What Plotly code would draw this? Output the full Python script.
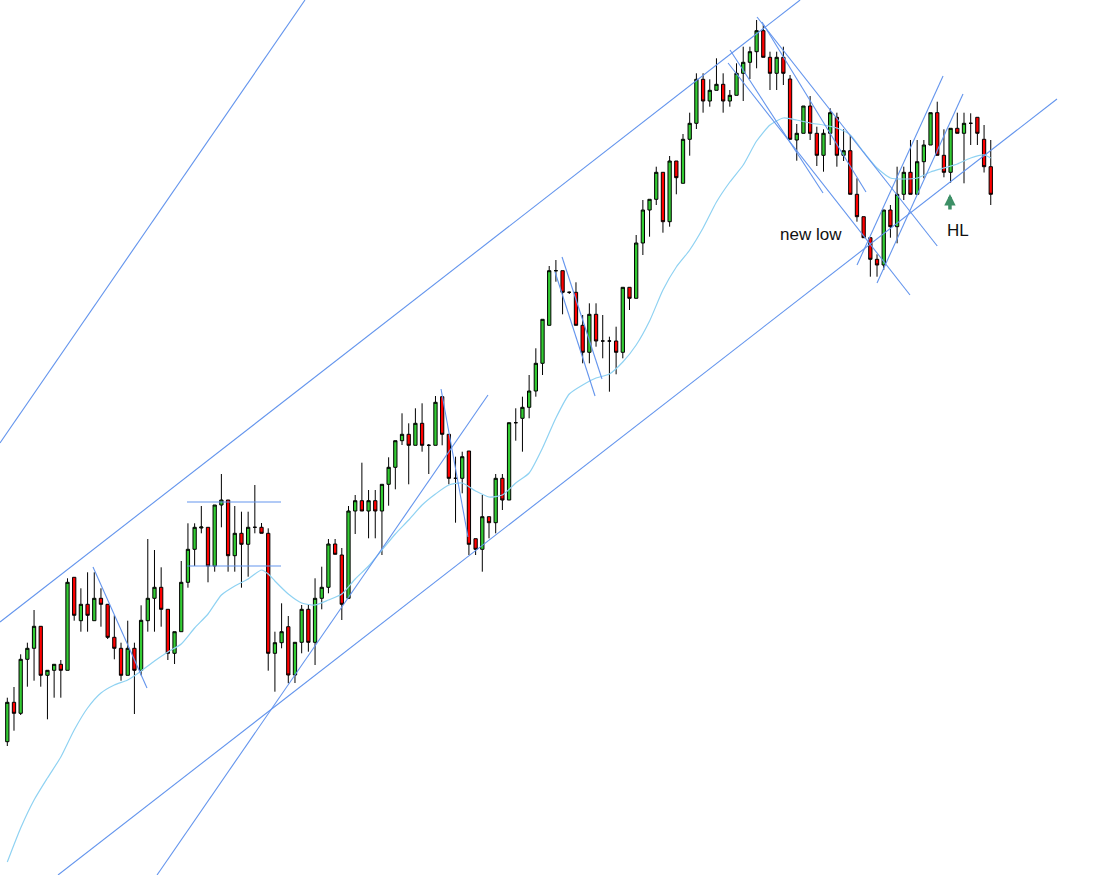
import plotly.graph_objects as go

# ---- candle data (price units, arbitrary scale) ----
OPEN = [133.3, 172.7, 161.7, 215.7, 226.7, 248.7, 199.7, 204.7, 210.7, 204.7,
        297.7, 254.3, 270.7, 254.3, 276.7, 270.7, 237.7, 226.7, 199.7, 226.7,
        204.7, 254.3, 276.7, 287.7, 265.7, 221.7, 243.3, 292.7, 325.7, 347.0,
        347.7, 309.0, 370.0, 375.0, 319.3, 341.7, 330.7, 347.7, 347.7, 341.7,
        221.7, 232.3, 248.3, 200.0, 232.7, 265.7, 232.7, 276.7, 287.7, 331.0,
        320.0, 276.7, 364.0, 374.3, 364.0, 374.3, 364.0, 390.7, 407.7, 434.3,
        440.7, 429.7, 451.7, 429.7, 429.7, 478.3, 440.7, 396.7, 396.7, 424.0,
        336.3, 325.7, 358.3, 352.3, 396.7, 375.0, 452.3, 456.7, 467.7, 484.0,
        511.7, 549.7, 604.3, 604.3, 582.7, 582.7, 549.7, 522.7, 560.7, 534.0,
        534.0, 534.0, 522.7, 587.7, 576.7, 632.0, 665.0, 675.7, 702.7, 653.3,
        714.0, 691.7, 735.7, 751.7, 795.7, 774.0, 784.7, 790.7, 774.0, 779.7,
        801.7, 812.7, 823.3, 844.3, 817.7, 801.7, 817.7, 796.0, 735.0, 741.7,
        769.0, 741.7, 719.7, 741.7, 757.7, 719.7, 724.3, 680.7, 658.3, 637.3,
        615.7, 610.0, 665.0, 648.3, 680.7, 702.7, 680.7, 713.3, 730.0, 762.3,
        719.7, 702.7, 746.7, 741.7, 751.7, 757.7, 735.7, 708.3]
HIGH = [177.3, 188.0, 220.7, 232.3, 265.0, 249.0, 205.0, 211.0, 215.0, 296.7,
        297.7, 286.7, 302.7, 302.7, 286.7, 271.0, 259.7, 232.3, 254.3, 232.3,
        269.7, 336.0, 325.0, 307.7, 265.7, 243.3, 314.0, 351.7, 351.7, 369.0,
        347.7, 370.0, 401.0, 375.0, 369.0, 363.3, 363.3, 390.0, 352.0, 346.7,
        243.3, 271.7, 259.0, 232.7, 270.0, 270.0, 296.7, 308.3, 336.0, 336.0,
        327.0, 369.0, 380.0, 412.3, 385.0, 385.0, 390.7, 417.7, 434.3, 461.7,
        451.7, 466.7, 471.7, 431.0, 479.0, 479.0, 440.7, 418.3, 423.3, 424.0,
        336.3, 380.0, 358.3, 401.0, 401.0, 452.3, 466.7, 478.3, 500.0, 526.7,
        555.7, 609.0, 615.0, 604.3, 583.5, 592.7, 560.0, 571.7, 571.7, 560.0,
        538.3, 548.3, 587.7, 587.7, 640.0, 675.0, 675.7, 708.3, 702.7, 719.0,
        714.0, 741.0, 762.3, 801.7, 801.7, 795.7, 816.7, 801.7, 785.0, 811.7,
        828.3, 828.3, 855.0, 850.0, 823.3, 823.3, 828.3, 800.0, 751.0, 769.0,
        779.0, 748.3, 745.7, 766.7, 762.3, 745.7, 740.0, 696.7, 658.3, 637.3,
        620.7, 665.0, 670.0, 708.3, 708.3, 735.0, 735.0, 735.0, 762.3, 773.3,
        745.7, 746.7, 762.3, 762.3, 761.7, 757.7, 750.0, 735.0]
LOW = [129.0, 144.3, 160.0, 188.3, 194.3, 188.3, 155.7, 177.3, 177.3, 204.7,
       254.3, 243.3, 243.3, 254.3, 248.3, 236.0, 215.7, 194.3, 199.7, 161.0,
       199.7, 243.3, 243.3, 248.3, 215.0, 211.0, 243.3, 287.3, 309.0, 341.7,
       292.7, 303.3, 347.7, 303.3, 303.3, 287.3, 298.3, 341.7, 341.7, 204.3,
       183.3, 226.7, 191.7, 192.0, 221.7, 223.3, 210.0, 265.7, 281.7, 320.7,
       255.0, 276.7, 341.0, 364.0, 336.7, 336.7, 320.0, 369.3, 385.7, 430.0,
       390.7, 429.7, 423.3, 401.0, 429.7, 429.7, 390.7, 352.3, 381.7, 320.0,
       320.0, 303.3, 336.7, 341.7, 365.0, 375.0, 434.3, 423.3, 456.7, 478.3,
       500.0, 549.7, 593.3, 560.7, 581.0, 549.7, 511.7, 511.7, 528.3, 516.7,
       483.3, 500.7, 516.7, 565.0, 576.7, 620.0, 638.3, 670.0, 642.3, 648.3,
       680.7, 691.7, 719.3, 746.0, 762.3, 768.3, 784.7, 762.3, 768.3, 779.7,
       774.0, 796.0, 806.7, 817.7, 785.0, 785.0, 790.0, 735.7, 714.3, 741.7,
       735.0, 709.0, 703.3, 730.0, 708.3, 714.0, 680.7, 653.3, 637.3, 598.3,
       598.3, 605.0, 637.3, 631.7, 675.0, 680.7, 680.7, 696.7, 730.0, 719.7,
       697.7, 692.3, 741.7, 691.7, 730.0, 730.0, 702.5, 670.0]
CLOSE = [172.7, 161.7, 215.7, 226.7, 248.7, 199.7, 204.7, 210.7, 204.7, 292.7,
         259.7, 270.7, 259.7, 276.7, 270.7, 237.7, 226.7, 199.7, 226.7, 204.7,
         254.7, 276.7, 287.7, 265.7, 221.7, 243.3, 292.7, 325.7, 347.7, 348.0,
         309.0, 370.0, 375.0, 319.3, 341.7, 330.7, 347.7, 347.7, 341.7, 221.7,
         232.3, 243.3, 200.0, 232.7, 265.7, 232.7, 276.7, 287.7, 331.0, 320.7,
         270.7, 364.0, 374.3, 364.0, 374.3, 364.0, 390.7, 407.7, 434.3, 440.7,
         429.7, 451.7, 429.7, 429.7, 472.7, 440.7, 396.7, 396.7, 418.3, 330.7,
         325.7, 358.3, 352.3, 396.7, 375.0, 452.3, 452.3, 467.7, 484.0, 511.7,
         555.7, 604.3, 604.3, 582.7, 582.7, 549.7, 522.7, 560.7, 534.0, 534.0,
         534.0, 522.7, 587.7, 576.7, 632.0, 665.0, 675.7, 702.7, 653.3, 714.0,
         697.3, 735.7, 751.7, 795.7, 774.0, 784.7, 790.7, 774.0, 779.7, 801.7,
         812.7, 823.3, 844.3, 817.7, 801.7, 817.7, 801.7, 735.7, 741.7, 769.0,
         741.7, 719.7, 741.7, 762.3, 719.7, 724.3, 680.7, 658.3, 637.3, 615.7,
         610.0, 665.0, 648.3, 680.7, 702.7, 680.7, 713.3, 730.0, 762.3, 719.7,
         702.7, 746.7, 741.7, 751.7, 751.7, 741.7, 708.3, 680.7]

MA_BAR = [0, 2, 4, 6, 8, 10, 12, 14, 16, 18, 20, 22, 24, 26, 28, 30, 32, 34, 36, 38,
          39, 40, 42, 44, 46, 48, 50, 52, 54, 56, 58, 60, 62, 64, 66, 68, 70, 72, 74,
          76, 78, 80, 82, 84, 86, 88, 90, 92, 94, 96, 98, 100, 102, 104, 106, 108,
          110, 112, 114, 116, 118, 120, 122, 124, 126, 128, 130, 132, 134, 136, 138,
          140, 142, 144, 146, 147]
MA_VAL = [13, 47, 75, 97, 118, 145, 167, 182, 190, 195, 204, 214, 223, 231, 247, 261,
          280, 289, 296, 305, 301, 294, 281, 272, 270, 275, 281, 296, 309, 325, 341,
          355, 370, 381, 390, 392, 384, 378, 380, 392, 402, 427, 457, 481, 490, 497,
          501, 513, 530, 554, 585, 608, 625, 647, 673, 693, 710, 734, 750, 757, 755,
          752, 750, 747, 740, 723, 707, 697, 696, 697, 703, 707, 711, 717, 720, 717]

# ---- drawn trend lines: start bar, start price, end bar, end price ----
TL_X0 = [-1.09, -1.09, 7.58, 22.38, 12.81, 26.86, 26.86, 64.83, 81.87, 82.92,
         112.06, 112.81, 108.03, 107.73, 127.01, 130.00]
TL_P0 = [432, 253, 0, 0, 308, 373, 309, 486, 603, 618,
         858, 853, 825, 812, 610, 592]
TL_X1 = [44.50, 118.50, 156.90, 71.85, 20.88, 40.91, 40.91, 68.86, 87.85, 88.89,
         139.00, 128.35, 121.93, 134.93, 139.87, 142.85]
TL_P1 = [875, 875, 776, 480, 187, 373, 309, 338, 479, 496,
         629, 683, 682, 580, 799, 781]

# ---- labels ----
LABELS = ["new low", "HL"]
LABEL_BAR = [120.2, 142.1]
LABEL_VAL = [641, 645]
ARROW_BAR = 140.9
ARROW_VAL = 681

bars = list(range(len(OPEN)))

fig = go.Figure()
fig.add_trace(go.Candlestick(
    x=bars, open=OPEN, high=HIGH, low=LOW, close=CLOSE,
    increasing=dict(fillcolor="#33CC33", line=dict(color="black", width=1)),
    decreasing=dict(fillcolor="#FF0000", line=dict(color="black", width=1)),
    whiskerwidth=0, hoverinfo="skip", showlegend=False))

fig.add_trace(go.Scatter(x=MA_BAR, y=MA_VAL, mode="lines",
                         line=dict(color="#8FD2F2", width=1.2, shape="spline", smoothing=0.6),
                         hoverinfo="skip", showlegend=False))

for x0, p0, x1, p1 in zip(TL_X0, TL_P0, TL_X1, TL_P1):
    fig.add_trace(go.Scatter(x=[x0, x1], y=[p0, p1], mode="lines",
                             line=dict(color="#6495ED", width=1.1),
                             hoverinfo="skip", showlegend=False))

for t, bx, v in zip(LABELS, LABEL_BAR, LABEL_VAL):
    fig.add_annotation(x=bx, y=v, text=t, showarrow=False,
                       font=dict(family="Liberation Sans, Arial", size=17, color="#111111"))

fig.add_annotation(x=ARROW_BAR, y=ARROW_VAL, text="", showarrow=True, ax=0, ay=17,
                   arrowhead=2, arrowsize=0.65, arrowwidth=3.5, arrowcolor="#3D8F66",
                   standoff=0, startstandoff=0)

fig.update_layout(
    width=1096, height=875, autosize=False,
    margin=dict(l=0, r=0, t=0, b=0),
    paper_bgcolor="white", plot_bgcolor="white",
    showlegend=False,
    xaxis=dict(range=[-1.091, 162.73], visible=False, rangeslider=dict(visible=False),
               fixedrange=True),
    yaxis=dict(range=[0, 875], visible=False, fixedrange=True),
)

fig.write_html("out.html", config={"displayModeBar": False},
               post_script="document.body.style.margin='0px';")
